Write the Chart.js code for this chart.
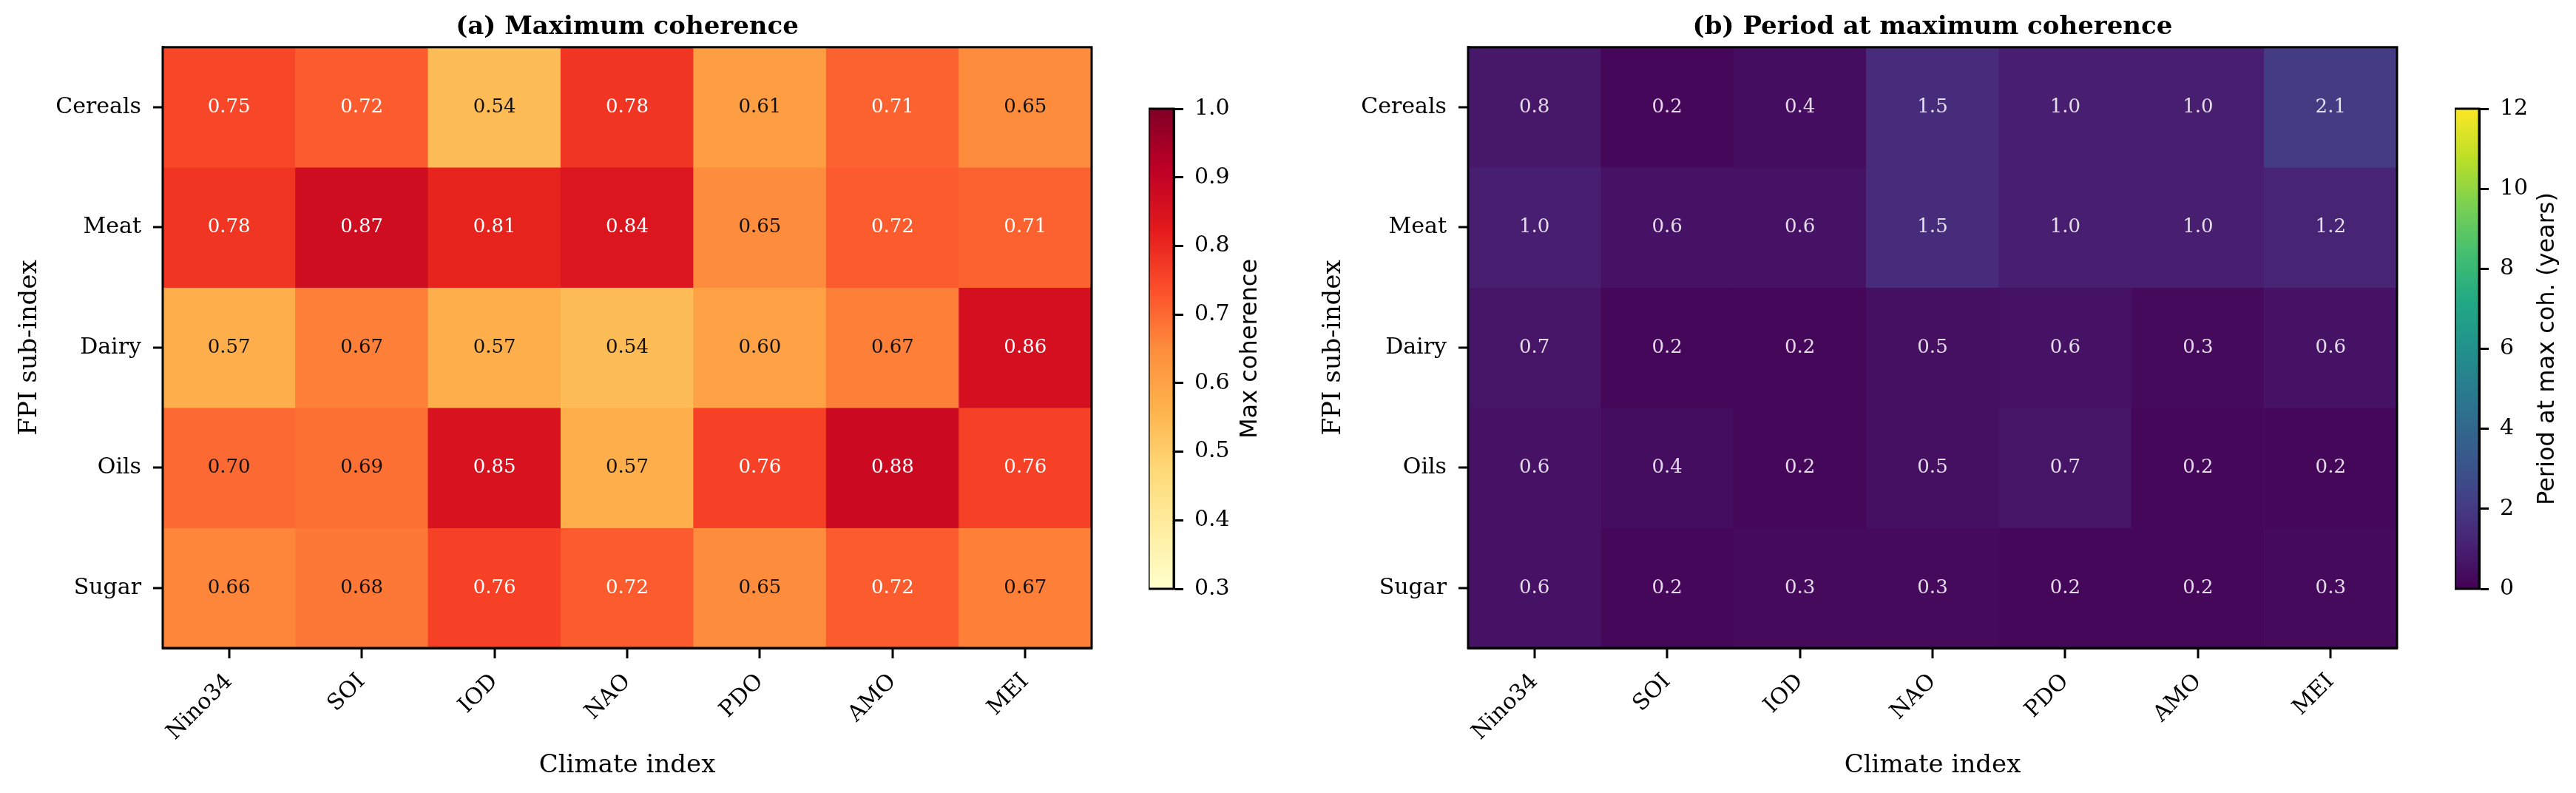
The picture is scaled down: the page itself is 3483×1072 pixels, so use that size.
<!DOCTYPE html>
<html><head><meta charset="utf-8">
<script src="https://cdn.jsdelivr.net/npm/chart.js@4.4.1/dist/chart.umd.min.js"></script>
<style>
html,body{margin:0;padding:0;background:#fff;width:3483px;height:1072px;overflow:hidden;position:relative}
canvas{position:absolute;top:0}
</style></head><body>
<canvas id="h1" width="1696" height="1072" style="left:0px"></canvas>
<canvas id="h2" width="1826" height="1072" style="left:1700px"></canvas>
<canvas id="cb1" width="200" height="1072" style="left:1553px"></canvas>
<canvas id="cb2" width="164" height="1072" style="left:3319px"></canvas>
<script>
// ---------- DATA ----------
const climateIndices = ['Nino34', 'SOI', 'IOD', 'NAO', 'PDO', 'AMO', 'MEI'];
const fpiSubIndices = ['Cereals', 'Meat', 'Dairy', 'Oils', 'Sugar'];

const cohCereals = [0.75, 0.72, 0.54, 0.78, 0.61, 0.71, 0.65];
const cohMeat    = [0.78, 0.87, 0.81, 0.84, 0.65, 0.72, 0.71];
const cohDairy   = [0.57, 0.67, 0.57, 0.54, 0.60, 0.67, 0.86];
const cohOils    = [0.70, 0.69, 0.85, 0.57, 0.76, 0.88, 0.76];
const cohSugar   = [0.66, 0.68, 0.76, 0.72, 0.65, 0.72, 0.67];

const perCereals = [0.8, 0.2, 0.4, 1.5, 1.0, 1.0, 2.1];
const perMeat    = [1.0, 0.6, 0.6, 1.5, 1.0, 1.0, 1.2];
const perDairy   = [0.7, 0.2, 0.2, 0.5, 0.6, 0.3, 0.6];
const perOils    = [0.6, 0.4, 0.2, 0.5, 0.7, 0.2, 0.2];
const perSugar   = [0.6, 0.2, 0.3, 0.3, 0.2, 0.2, 0.3];

const cohTicks = [0.3, 0.4, 0.5, 0.6, 0.7, 0.8, 0.9, 1.0];
const periodTicks = [0, 2, 4, 6, 8, 10, 12];

const cohRows = [cohCereals, cohMeat, cohDairy, cohOils, cohSugar];
const perRows = [perCereals, perMeat, perDairy, perOils, perSugar];

// ---------- COLORMAPS ----------
const YLORRD = ['#ffffcc','#ffeda0','#fed976','#feb24c','#fd8d3c','#fc4e2a','#e31a1c','#bd0026','#800026'];
const VIRIDIS = ['#440154','#482475','#414487','#355f8d','#2a788e','#21918c','#22a884','#44bf70','#7ad151','#bddf26','#fde725'];
function hex(h){return [parseInt(h.substr(1,2),16),parseInt(h.substr(3,2),16),parseInt(h.substr(5,2),16)];}
function makeCmap(stops){
  const rgb = stops.map(hex);
  return t => {
    t = Math.max(0, Math.min(1, t));
    const p = t * (rgb.length - 1); const i = Math.min(Math.floor(p), rgb.length - 2); const f = p - i;
    const c = rgb[i].map((v, k) => Math.round(v + (rgb[i+1][k] - v) * f));
    return `rgb(${c[0]},${c[1]},${c[2]})`;
  };
}
const ylorrd = makeCmap(YLORRD), viridis = makeCmap(VIRIDIS);

Chart.defaults.font.family = "'DejaVu Serif'";
Chart.defaults.color = '#000';

const frame = {
  id: 'frame',
  afterDraw(chart) {
    const {ctx, chartArea: a} = chart;
    ctx.save(); ctx.strokeStyle = '#000'; ctx.lineWidth = 3;
    ctx.strokeRect(a.left, a.top, a.right - a.left, a.bottom - a.top);
    ctx.restore();
  }
};

function cellLabels(colorFn, fmtFn) {
  return {
    id: 'cellLabels',
    afterDatasetsDraw(chart) {
      const c = chart.ctx; c.save();
      c.font = "26px 'DejaVu Serif'"; c.textAlign = 'center'; c.textBaseline = 'middle';
      chart.data.datasets.forEach((ds, r) => {
        chart.getDatasetMeta(r).data.forEach((bar, j) => {
          const p = bar.getProps(['x', 'y', 'base'], true);
          c.fillStyle = colorFn(ds.cellValues[j]);
          c.fillText(fmtFn(ds.cellValues[j]), p.x, (p.y + p.base) / 2);
        });
      });
      c.restore();
    }
  };
}

function heatmap(id, rows, cmap, vmin, vmax, title, yW, yTitlePad, colorFn, fmtFn) {
  const datasets = rows.map((vals, r) => ({
    data: climateIndices.map(() => [r, r + 1]),
    cellValues: vals,
    backgroundColor: vals.map(v => cmap((v - vmin) / (vmax - vmin))),
    borderWidth: 0, barPercentage: 1, categoryPercentage: 1, grouped: false
  }));
  const gridCol = 'rgba(210,210,210,0.45)';
  return new Chart(document.getElementById(id), {
    type: 'bar',
    data: {labels: climateIndices, datasets},
    options: {
      responsive: false, animation: false, devicePixelRatio: 1,
      layout: {padding: 0},
      plugins: {
        legend: {display: false}, tooltip: {enabled: false},
        title: {display: true, text: title, color: '#000',
          font: {family: "'DejaVu Serif'", size: 34, weight: 'bold'},
          padding: {top: 17, bottom: 6}}
      },
      scales: {
        x: {
          offset: true, z: 1,
          grid: {offset: false, color: gridCol, lineWidth: 2, tickLength: 14, tickColor: '#000', tickWidth: 3},
          border: {display: true, color: '#000', width: 3},
          ticks: {minRotation: 45, maxRotation: 45, autoSkip: false, padding: 14, color: '#000', font: {size: 30}},
          title: {display: true, text: 'Climate index', color: '#000', font: {size: 34}, padding: {top: 0, bottom: 16}},
          afterFit(s) { s.height = 196; }
        },
        y: {
          type: 'linear', min: 0, max: rows.length, reverse: true, z: 1,
          afterBuildTicks(s) { s.ticks = fpiSubIndices.map((_, i) => ({value: i + 0.5})); },
          grid: {color: gridCol, lineWidth: 2, tickLength: 13, tickColor: '#000', tickWidth: 3},
          border: {display: true, color: '#000', width: 3},
          ticks: {padding: 16, color: '#000', font: {size: 30}, callback: (v, i) => fpiSubIndices[i]},
          title: {display: true, text: 'FPI sub-index', color: '#000', font: {size: 34}, padding: {top: yTitlePad, bottom: 0}},
          afterFit(s) { s.width = yW; }
        },
        y2: {
          type: 'linear', position: 'right', display: true,
          grid: {display: false, drawTicks: false}, border: {display: false}, ticks: {display: false},
          afterFit(s) { s.width = yW; }
        }
      }
    },
    plugins: [cellLabels(colorFn, fmtFn), frame]
  });
}

function colorbar(id, cmap, ticks, label, yW, labelX, fmt) {
  const vmin = ticks[0], vmax = ticks[ticks.length - 1];
  const bg = (ctx) => {
    const chart = ctx.chart;
    if (!chart.chartArea || !chart.scales.y) return cmap(0.5);
    const ys = chart.scales.y;
    const g = chart.ctx.createLinearGradient(0, ys.getPixelForValue(vmin), 0, ys.getPixelForValue(vmax));
    for (let k = 0; k <= 40; k++) g.addColorStop(k / 40, cmap(k / 40));
    return g;
  };
  const cbLabel = {
    id: 'cbLabel',
    afterDraw(chart) {
      const {ctx, chartArea: a} = chart;
      ctx.save(); ctx.translate(labelX, (a.top + a.bottom) / 2); ctx.rotate(-Math.PI / 2);
      ctx.font = "32px 'DejaVu Sans'"; ctx.fillStyle = '#000'; ctx.textAlign = 'center'; ctx.textBaseline = 'middle';
      ctx.fillText(label, 0, 0); ctx.restore();
    }
  };
  return new Chart(document.getElementById(id), {
    type: 'bar',
    data: {labels: [label], datasets: [{data: [[vmin, vmax]], backgroundColor: bg, borderWidth: 0, barPercentage: 1, categoryPercentage: 1}]},
    options: {
      responsive: false, animation: false, devicePixelRatio: 1,
      layout: {padding: {top: 147, bottom: 276, left: 0, right: 0}},
      plugins: {legend: {display: false}, tooltip: {enabled: false}, title: {display: false}},
      scales: {
        x: {display: false},
        y: {
          position: 'right', min: vmin, max: vmax,
          afterBuildTicks(s) { s.ticks = ticks.map(v => ({value: v})); },
          grid: {drawOnChartArea: false, tickLength: 13, tickColor: '#000', tickWidth: 3},
          border: {display: true, color: '#000', width: 3},
          ticks: {padding: 15, color: '#000', font: {size: 30}, callback: (v) => fmt(v)},
          afterFit(s) { s.width = yW; }
        }
      }
    },
    plugins: [frame, cbLabel]
  });
}

heatmap('h1', cohRows, ylorrd, 0.3, 1.0, '(a) Maximum coherence', 220, 20,
  v => v >= 0.705 ? '#ffffff' : '#111111', v => v.toFixed(2));
heatmap('h2', perRows, viridis, 0, 12, '(b) Period at maximum coherence', 285, 83,
  v => 'rgba(255,255,255,0.85)', v => v.toFixed(1));
colorbar('cb1', ylorrd, cohTicks, 'Max coherence', 166, 138, v => v.toFixed(1));
colorbar('cb2', viridis, periodTicks, 'Period at max coh. (years)', 131, 126, v => String(v));
</script>
</body></html>
